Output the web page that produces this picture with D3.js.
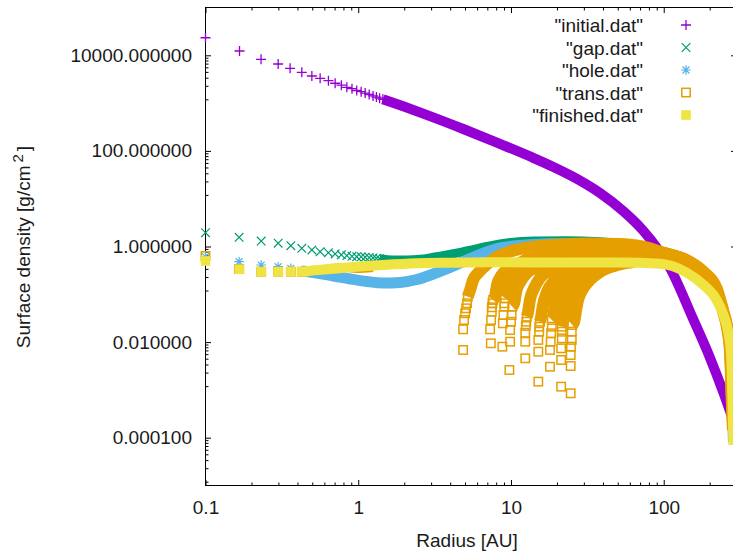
<!DOCTYPE html>
<html>
<head>
<meta charset="utf-8">
<title>Surface density</title>
<script src="https://d3js.org/d3.v7.min.js"></script>
<style>
  body { margin: 0; background: white; }
  text { font-family: "Liberation Sans", Arial, sans-serif; }
</style>
</head>
<body>
<div id="chart"></div>
<script>

// ---- values (radius in AU, surface density in g/cm^2) ----

// initial.dat : separate markers, then the dense part
var initialR = [0.1, 0.167, 0.231, 0.299, 0.358, 0.427, 0.497, 0.563, 0.638, 0.706, 0.775, 0.842, 0.91, 0.977, 1.045, 1.11, 1.18, 1.25, 1.315, 1.38, 1.45];
var initialS = [23300, 12300, 8250, 6570, 5350, 4410, 3690, 3300, 2940, 2600, 2370, 2140, 2000, 1835, 1731, 1619, 1514, 1415, 1336, 1266, 1201];
var initialBandR = [1.45, 1.991, 2.946, 4.918, 8.087, 13.91, 18.81, 25.42, 38.17, 54.0, 73.0, 91.5, 109.6, 155.0, 200.3, 243.7, 277.8, 292];
var initialBandS = [1201, 845, 535, 284, 149, 72.1, 46.7, 28.9, 13.2, 5.58, 2.19, 0.886, 0.362, 0.0316, 0.00481, 0.000948, 0.000293, 0.000185];

// gap.dat
var gapR = [0.1, 0.166, 0.2315, 0.299, 0.362, 0.427, 0.497, 0.563, 0.638, 0.706, 0.775, 0.842, 0.91, 0.977, 1.045, 1.11, 1.18, 1.25, 1.315, 1.38];
var gapS = [1.94, 1.56, 1.30, 1.17, 1.04, 0.917, 0.845, 0.778, 0.742, 0.70, 0.67, 0.645, 0.625, 0.612, 0.609, 0.597, 0.586, 0.575, 0.566, 0.556];
var gapBandR = [1.38, 1.70, 2.08, 2.54, 3.10, 3.80, 5.14, 8.48, 14.0, 23.2, 38.3, 63.0, 94.6, 141, 182, 222, 246, 260, 272, 280, 286];
var gapBandS = [0.556, 0.522, 0.522, 0.540, 0.594, 0.664, 0.805, 1.13, 1.30, 1.32, 1.26, 1.07, 0.817, 0.548, 0.312, 0.140, 0.0454, 0.0228, 0.00684, 0.000995, 0.0000886];

// hole.dat
var holeR = [0.1, 0.166, 0.2315, 0.299, 0.362, 0.427];
var holeS = [0.612, 0.481, 0.410, 0.378, 0.350, 0.307];
var holeBandR = [0.427, 0.484, 0.688, 0.885, 1.14, 1.46, 1.88, 2.42, 3.10, 3.99, 5.14, 8.48, 14.0, 23.2, 38.3, 63.0, 94.6, 141, 182, 222, 246, 260, 272, 280, 286];
var holeBandS = [0.307, 0.293, 0.241, 0.209, 0.185, 0.172, 0.177, 0.204, 0.266, 0.364, 0.522, 0.930, 1.10, 1.16, 1.13, 0.976, 0.767, 0.497, 0.279, 0.123, 0.0426, 0.0207, 0.00621, 0.000904, 0.0000813];

// trans.dat : inner disc, then one curve per hole radius (sparse tip + dense part)
var transR = [0.1, 0.166, 0.2315, 0.299, 0.362, 0.427];
var transS = [0.633, 0.338, 0.297, 0.297, 0.297, 0.297];
var transInnerBandR = [0.427, 0.497, 0.761, 0.979, 1.25];
var transInnerBandS = [0.297, 0.312, 0.37, 0.338, 0.355];

var transTipR = [
  [5.22, 5.16, 5.08, 5.01, 4.93, 4.86, 4.86],
  [7.64, 7.56, 7.49, 7.49, 7.41, 7.30, 7.38],
  [9.15, 9.05, 9.05, 8.92, 8.84, 8.78],
  [10.2, 10.1, 10.0, 9.87, 9.87, 9.76],
  [12.7, 12.6, 12.5, 12.4, 12.4, 12.4],
  [15.5, 15.3, 15.3, 15.1, 15.1, 15.1],
  [18.5, 18.5, 18.3, 18.2, 18.0, 18.0],
  [21.5, 21.5, 21.5, 21.3, 21.3, 21.3],
  [25.2, 25.0, 25.0, 24.7, 24.6, 24.6, 24.6]
];
var transTipS = [
  [0.0891, 0.0649, 0.0509, 0.0401, 0.0290, 0.0185, 0.00684],
  [0.0760, 0.0649, 0.0535, 0.0433, 0.0290, 0.0185, 0.00944],
  [0.0824, 0.0649, 0.0551, 0.0369, 0.0247, 0.00802],
  [0.0551, 0.0369, 0.0267, 0.0179, 0.0102, 0.00261],
  [0.0340, 0.0267, 0.0217, 0.0157, 0.0102, 0.00458],
  [0.0267, 0.0210, 0.0165, 0.0111, 0.00630, 0.00149],
  [0.0290, 0.0210, 0.0153, 0.0102, 0.00684, 0.00305],
  [0.0210, 0.0165, 0.0120, 0.00741, 0.00423, 0.00117],
  [0.0228, 0.0165, 0.0111, 0.00802, 0.00537, 0.00316, 0.000849]
];
var transBandR = [
  [5.22, 5.40, 5.65, 6.09, 6.87, 8.11, 9.87, 11.5, 18.9, 31.5, 51.8, 81.4, 94.6, 141, 182, 222, 246, 260, 272, 279, 284],
  [7.64, 7.87, 8.11, 8.61, 9.57, 11.1, 13.3, 21.0, 38.3, 81.4],
  [9.15, 9.43, 9.72, 10.3, 11.5, 13.3, 16.7, 38.3, 81.4],
  [10.2, 10.5, 10.8, 11.5, 12.7, 15.0, 19.4, 38.3, 81.4],
  [12.7, 12.9, 13.3, 14.2, 15.5, 18.0, 21.6, 28.3, 51.8, 94.6],
  [15.5, 15.7, 16.2, 17.2, 18.9, 21.6, 26.3, 35.5, 60.2, 94.6],
  [18.5, 18.9, 19.4, 20.6, 22.6, 25.9, 31.5, 44.5, 94.6],
  [21.5, 21.9, 22.6, 24.0, 26.3, 30.1, 36.6, 51.8, 94.6],
  [25.2, 25.9, 26.7, 27.5, 29.6, 32.9, 38.3, 47.3, 62.0, 94.6, 141, 182, 222, 246, 260, 272, 279, 284]
];
var transBandS = [
  [0.0891, 0.123, 0.199, 0.279, 0.410, 0.603, 0.785, 0.887, 1.075, 1.156, 1.127, 0.916, 0.778, 0.522, 0.297, 0.134, 0.0433, 0.0217, 0.00684, 0.000782, 0.000185],
  [0.0760, 0.0920, 0.157, 0.241, 0.338, 0.430, 0.574, 0.697, 0.714, 0.697],
  [0.0824, 0.101, 0.164, 0.241, 0.322, 0.410, 0.574, 0.697, 0.664],
  [0.0551, 0.0658, 0.112, 0.181, 0.279, 0.372, 0.548, 0.664, 0.664],
  [0.0340, 0.0406, 0.0760, 0.136, 0.219, 0.322, 0.410, 0.548, 0.664, 0.633],
  [0.0267, 0.0319, 0.0597, 0.112, 0.181, 0.279, 0.391, 0.522, 0.633, 0.633],
  [0.0290, 0.0335, 0.0627, 0.112, 0.181, 0.266, 0.372, 0.522, 0.603],
  [0.0210, 0.0264, 0.0493, 0.0920, 0.157, 0.241, 0.355, 0.474, 0.603],
  [0.0228, 0.0264, 0.0470, 0.0760, 0.129, 0.199, 0.293, 0.391, 0.474, 0.603, 0.430, 0.253, 0.117, 0.0406, 0.0197, 0.00621, 0.000615, 0.000145]
];

// finished.dat
var finishedR = [0.1, 0.167, 0.2315, 0.299, 0.362, 0.427];
var finishedS = [0.497, 0.333, 0.297, 0.297, 0.297, 0.297];
var finishedBandR = [0.427, 0.484, 0.623, 0.885, 1.46, 2.42, 3.99, 8.48, 21.0, 51.8, 94.6, 141, 182, 222, 246, 265, 276, 282, 286];
var finishedBandS = [0.297, 0.312, 0.333, 0.367, 0.410, 0.445, 0.458, 0.467, 0.463, 0.463, 0.437, 0.286, 0.157, 0.0760, 0.0369, 0.0155, 0.00537, 0.000615, 0.0000704];

var xTicks = [0.1, 1, 10, 100];
var yTicks = [1e-4, 1e-2, 1, 1e2, 1e4];
var legendLabels = ['"initial.dat"', '"gap.dat"', '"hole.dat"', '"trans.dat"', '"finished.dat"'];

// ---- layout ----
var width = 733, height = 557;
var plotLeft = 205.5, plotRight = 736.6, plotTop = 7.5, plotBottom = 485.5;
var colors = ["#9400d3", "#009e73", "#56b4e9", "#e69f00", "#f0e442"];
var font = '"Liberation Sans", Arial, sans-serif';

var x = d3.scaleLog().domain([0.1, 300]).range([plotLeft, plotRight]);
var y = d3.scaleLog().domain([1e-5, 1e5]).range([plotBottom, plotTop]);

var svg = d3.select("#chart").append("svg")
    .attr("width", width)
    .attr("height", height);

// minor ticks: 2..9 per decade on x, gnuplot style linear steps between the major tics on y
var xMinor = [];
[0.1, 1, 10, 100].forEach(function(d) {
  for (var k = 2; k <= 9; k++) if (k * d <= 300) xMinor.push(k * d);
});
var yMinor = [];
for (var m = -6; m <= 4; m += 2) {
  var lo = Math.pow(10, m), hi = Math.pow(10, m + 2);
  for (var j = 1; j <= 8; j++) {
    var v = lo + (hi - lo) * j / 9;
    if (v > 1e-5 && v < 1e5) yMinor.push(v);
  }
}

function styleAxis(g) {
  g.select(".domain").remove();
  g.attr("font-family", font).attr("font-size", 19).attr("color", "#000");
  g.selectAll(".tick line").attr("stroke-width", 1);
  g.selectAll("text").attr("fill", "#1a1a1a");
}

// bottom
svg.append("g").attr("transform", "translate(0," + plotBottom + ")")
  .call(d3.axisBottom(x).tickValues(xTicks).tickSize(-5.5).tickPadding(15.5).tickFormat(d3.format("~g")))
  .call(styleAxis);
svg.append("g").attr("transform", "translate(0," + plotBottom + ")")
  .call(d3.axisBottom(x).tickValues(xMinor).tickSize(-3).tickFormat(""))
  .call(styleAxis);
// top mirror
svg.append("g").attr("transform", "translate(0," + plotTop + ")")
  .call(d3.axisTop(x).tickValues(xTicks).tickSize(-5.5).tickFormat(""))
  .call(styleAxis);
svg.append("g").attr("transform", "translate(0," + plotTop + ")")
  .call(d3.axisTop(x).tickValues(xMinor).tickSize(-3).tickFormat(""))
  .call(styleAxis);
// left
svg.append("g").attr("transform", "translate(" + plotLeft + ",0)")
  .call(d3.axisLeft(y).tickValues(yTicks).tickSize(-5.5).tickPadding(13.5).tickFormat(d3.format(".6f")))
  .call(styleAxis);
svg.append("g").attr("transform", "translate(" + plotLeft + ",0)")
  .call(d3.axisLeft(y).tickValues(yMinor).tickSize(-3).tickFormat(""))
  .call(styleAxis);
// right mirror
svg.append("g").attr("transform", "translate(" + plotRight + ",0)")
  .call(d3.axisRight(y).tickValues(yTicks).tickSize(-5.5).tickFormat(""))
  .call(styleAxis);
svg.append("g").attr("transform", "translate(" + plotRight + ",0)")
  .call(d3.axisRight(y).tickValues(yMinor).tickSize(-3).tickFormat(""))
  .call(styleAxis);

// border
svg.append("rect")
  .attr("x", plotLeft).attr("y", plotTop)
  .attr("width", plotRight - plotLeft).attr("height", plotBottom - plotTop)
  .attr("fill", "none").attr("stroke", "#000").attr("stroke-width", 1);

// axis titles
svg.append("text")
  .attr("x", 467).attr("y", 547)
  .attr("text-anchor", "middle")
  .attr("font-size", 19).attr("fill", "#1a1a1a")
  .text("Radius [AU]");

var yt = svg.append("text")
  .attr("transform", "translate(30,247) rotate(-90)")
  .attr("text-anchor", "middle")
  .attr("font-size", 19).attr("fill", "#1a1a1a");
yt.append("tspan").text("Surface density [g/cm");
yt.append("tspan").attr("dx", 3).attr("dy", -7).attr("font-size", 15).text("2");
yt.append("tspan").attr("dx", 3).attr("dy", 7).text("]");

// ---- markers ----
function plusPath(h) { return "M" + (-h) + ",0H" + h + "M0," + (-h) + "V" + h; }
function timesPath(h) { return "M" + (-h) + "," + (-h) + "L" + h + "," + h + "M" + (-h) + "," + h + "L" + h + "," + (-h); }
function starPath(h) { return plusPath(h) + timesPath(h * 0.72); }

var markers = [
  function(g, c) { g.append("path").attr("d", plusPath(5)).attr("stroke", c).attr("stroke-width", 1.3).attr("fill", "none"); },
  function(g, c) { g.append("path").attr("d", timesPath(4.3)).attr("stroke", c).attr("stroke-width", 1.2).attr("fill", "none"); },
  function(g, c) { g.append("path").attr("d", starPath(4.8)).attr("stroke", c).attr("stroke-width", 1.2).attr("fill", "none"); },
  function(g, c) { g.append("rect").attr("x", -4.2).attr("y", -4.2).attr("width", 8.4).attr("height", 8.4).attr("stroke", c).attr("stroke-width", 1.5).attr("fill", "none"); },
  function(g, c) { g.append("rect").attr("x", -4.8).attr("y", -4.8).attr("width", 9.6).attr("height", 9.6).attr("fill", c); }
];

var band = d3.line()
  .x(function(d) { return x(d[0]); })
  .y(function(d) { return y(d[1]); })
  .curve(d3.curveMonotoneX);

var plot = svg.append("g");

function drawBand(r, s, color, w) {
  plot.append("path")
    .datum(d3.zip(r, s))
    .attr("d", band)
    .attr("fill", "none")
    .attr("stroke", color)
    .attr("stroke-width", w)
    .attr("stroke-linejoin", "round");
}

function drawPoints(r, s, idx) {
  plot.append("g").selectAll("g")
    .data(d3.zip(r, s))
    .enter().append("g")
      .attr("transform", function(d) { return "translate(" + x(d[0]) + "," + y(d[1]) + ")"; })
      .each(function() { markers[idx](d3.select(this), colors[idx]); });
}

// in gnuplot order, later files on top
drawBand(initialBandR, initialBandS, colors[0], 10);
drawPoints(initialR, initialS, 0);

drawBand(gapBandR, gapBandS, colors[1], 9);
drawPoints(gapR, gapS, 1);

drawBand(holeBandR, holeBandS, colors[2], 11);
drawPoints(holeR, holeS, 2);

drawBand(transInnerBandR, transInnerBandS, colors[3], 8);
drawPoints(transR, transS, 3);
transBandR.forEach(function(r, i) { drawBand(r, transBandS[i], colors[3], 12); });
transTipR.forEach(function(r, i) { drawPoints(r, transTipS[i], 3); });

drawBand(finishedBandR, finishedBandS, colors[4], 10);
drawPoints(finishedR, finishedS, 4);

// ---- legend ----
var legend = svg.append("g");
legendLabels.forEach(function(label, i) {
  var cy = 25 + i * 22.5;
  legend.append("text")
    .attr("x", 643).attr("y", cy + 7)
    .attr("text-anchor", "end")
    .attr("font-size", 19).attr("fill", "#1a1a1a")
    .text(label);
  var g = legend.append("g").attr("transform", "translate(686," + cy + ")");
  markers[i](g, colors[i]);
});

</script>
</body>
</html>
